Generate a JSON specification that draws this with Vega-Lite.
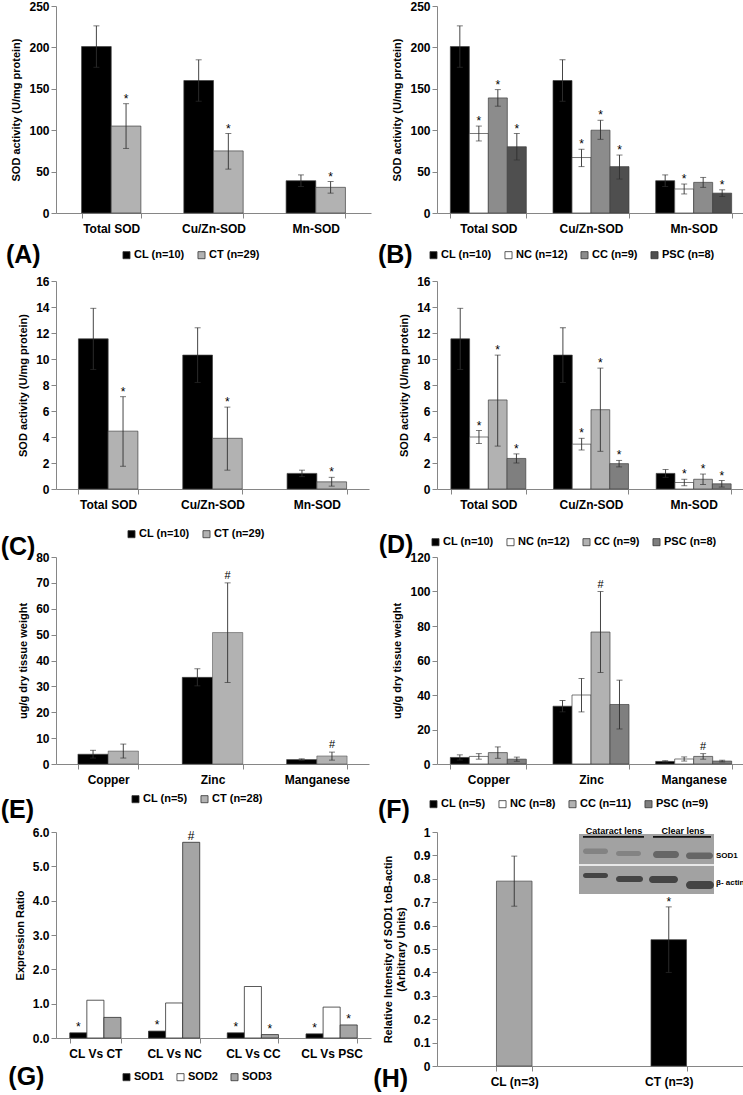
{
"$schema": "https://vega.github.io/schema/vega-lite/v6.json",
"padding": {"left": 0, "top": 0, "right": 0, "bottom": 0},
"background": "white",
"config": {
  "font": "Liberation Sans",
  "view": {"stroke": null},
  "axis": {"labelFont": "Liberation Sans", "labelFontSize": 12, "labelFontWeight": "bold", "labelColor": "#000000", "titleFont": "Liberation Sans", "titleFontSize": 11, "titleFontWeight": "bold", "titleColor": "#000000", "domainColor": "#868686", "tickColor": "#868686", "grid": false, "tickSize": 5},
  "axisY": {"labelPadding": 2, "titlePadding": 7},
  "axisX": {"labelPadding": 5, "labelAngle": 0},
  "legend": {"direction": "horizontal", "symbolType": "square", "symbolSize": 50, "symbolStrokeColor": "#333333", "symbolStrokeWidth": 0.8, "labelFont": "Liberation Sans", "labelFontSize": 11, "labelFontWeight": "bold", "labelColor": "#000000", "labelOffset": 2, "columnPadding": 11},
  "title": {"font": "Liberation Sans", "fontSize": 25, "fontWeight": "bold", "color": "#000000"},
  "text": {"color": "#000000"}
},
"columns": 2,
"bounds": "flush",
"align": "each",
"spacing": {"row": 68, "column": 66},
"resolve": {"scale": {"color": "independent", "xOffset": "independent"}, "legend": {"color": "independent"}},
"concat": [
   {"width": 315, "height": 207,
    "title": {"text": "(A)", "orient": "bottom", "anchor": "start", "frame": "bounds", "offset": -5.5, "dx": -5, "baseline": "middle"},
    "data": {"values": [
      {"c": "Total SOD", "g": "CL (n=10)", "v": 201, "lo": 176, "hi": 226, "s": ""},
      {"c": "Total SOD", "g": "CT (n=29)", "v": 105, "lo": 78, "hi": 132, "s": "*"},
      {"c": "Cu/Zn-SOD", "g": "CL (n=10)", "v": 160, "lo": 135, "hi": 185, "s": ""},
      {"c": "Cu/Zn-SOD", "g": "CT (n=29)", "v": 75, "lo": 53, "hi": 96, "s": "*"},
      {"c": "Mn-SOD", "g": "CL (n=10)", "v": 39, "lo": 32, "hi": 46, "s": ""},
      {"c": "Mn-SOD", "g": "CT (n=29)", "v": 31, "lo": 24, "hi": 38, "s": "*"}
    ]},
    "encoding": {
      "x": {"field": "c", "type": "nominal", "sort": ["Total SOD", "Cu/Zn-SOD", "Mn-SOD"], "scale": {"paddingInner": 0.42, "paddingOuter": 0.25}, "axis": {"title": null, "tickBand": "extent"}},
      "xOffset": {"field": "g", "type": "nominal", "scale": {"domain": ["CL (n=10)", "CT (n=29)"]}}
    },
    "layer": [
      {"mark": {"type": "bar", "stroke": "#404040", "strokeWidth": 0.7},
       "encoding": {"y": {"field": "v", "type": "quantitative", "scale": {"domain": [0, 250], "nice": false}, "axis": {"title": "SOD activity (U/mg protein)", "values": [0, 50, 100, 150, 200, 250]}},
         "color": {"field": "g", "type": "nominal", "scale": {"domain": ["CL (n=10)", "CT (n=29)"], "range": ["#000000", "#b2b2b2"]}, "legend": {"orient": "none", "legendX": 65, "legendY": 243.5, "title": null}}}},
      {"mark": {"type": "rule", "color": "#303030", "strokeWidth": 0.9}, "encoding": {"y": {"field": "lo", "type": "quantitative", "axis": {"title": "SOD activity (U/mg protein)", "values": [0, 50, 100, 150, 200, 250]}}, "y2": {"field": "hi"}}},
      {"mark": {"type": "tick", "color": "#303030", "thickness": 0.9, "size": 6}, "encoding": {"y": {"field": "lo", "type": "quantitative", "axis": {"title": "SOD activity (U/mg protein)", "values": [0, 50, 100, 150, 200, 250]}}}},
      {"mark": {"type": "tick", "color": "#303030", "thickness": 0.9, "size": 6}, "encoding": {"y": {"field": "hi", "type": "quantitative", "axis": {"title": "SOD activity (U/mg protein)", "values": [0, 50, 100, 150, 200, 250]}}}},
      {"mark": {"type": "text", "baseline": "alphabetic", "dy": -1, "fontSize": 12, "color": "#000000"}, "encoding": {"y": {"field": "hi", "type": "quantitative", "axis": {"title": "SOD activity (U/mg protein)", "values": [0, 50, 100, 150, 200, 250]}}, "text": {"field": "s"}}}
    ]},
   {"width": 308, "height": 207,
    "title": {"text": "(B)", "orient": "bottom", "anchor": "start", "frame": "bounds", "offset": -5.5, "dx": -14, "baseline": "middle"},
    "data": {"values": [
      {"c": "Total SOD", "g": "CL (n=10)", "v": 201, "lo": 176, "hi": 226, "s": ""},
      {"c": "Total SOD", "g": "NC (n=12)", "v": 96, "lo": 87, "hi": 105, "s": "*"},
      {"c": "Total SOD", "g": "CC (n=9)", "v": 139, "lo": 129, "hi": 149, "s": "*"},
      {"c": "Total SOD", "g": "PSC (n=8)", "v": 80, "lo": 64, "hi": 96, "s": "*"},
      {"c": "Cu/Zn-SOD", "g": "CL (n=10)", "v": 160, "lo": 135, "hi": 185, "s": ""},
      {"c": "Cu/Zn-SOD", "g": "NC (n=12)", "v": 67, "lo": 56, "hi": 77, "s": "*"},
      {"c": "Cu/Zn-SOD", "g": "CC (n=9)", "v": 100, "lo": 89, "hi": 112, "s": "*"},
      {"c": "Cu/Zn-SOD", "g": "PSC (n=8)", "v": 56, "lo": 41, "hi": 70, "s": "*"},
      {"c": "Mn-SOD", "g": "CL (n=10)", "v": 39, "lo": 32, "hi": 46, "s": ""},
      {"c": "Mn-SOD", "g": "NC (n=12)", "v": 29, "lo": 23, "hi": 35, "s": "*"},
      {"c": "Mn-SOD", "g": "CC (n=9)", "v": 37, "lo": 31, "hi": 43, "s": ""},
      {"c": "Mn-SOD", "g": "PSC (n=8)", "v": 24, "lo": 20, "hi": 28, "s": "*"}
    ]},
    "encoding": {
      "x": {"field": "c", "type": "nominal", "sort": ["Total SOD", "Cu/Zn-SOD", "Mn-SOD"], "scale": {"paddingInner": 0.26, "paddingOuter": 0.13}, "axis": {"title": null, "tickBand": "extent"}},
      "xOffset": {"field": "g", "type": "nominal", "scale": {"domain": ["CL (n=10)", "NC (n=12)", "CC (n=9)", "PSC (n=8)"]}}
    },
    "layer": [
      {"mark": {"type": "bar", "stroke": "#404040", "strokeWidth": 0.7},
       "encoding": {"y": {"field": "v", "type": "quantitative", "scale": {"domain": [0, 250], "nice": false}, "axis": {"title": "SOD activity (U/mg protein)", "values": [0, 50, 100, 150, 200, 250]}},
         "color": {"field": "g", "type": "nominal", "scale": {"domain": ["CL (n=10)", "NC (n=12)", "CC (n=9)", "PSC (n=8)"], "range": ["#000000", "#ffffff", "#8c8c8c", "#4f4f4f"]}, "legend": {"orient": "none", "legendX": -9, "legendY": 243.5, "title": null}}}},
      {"mark": {"type": "rule", "color": "#303030", "strokeWidth": 0.9}, "encoding": {"y": {"field": "lo", "type": "quantitative", "axis": {"title": "SOD activity (U/mg protein)", "values": [0, 50, 100, 150, 200, 250]}}, "y2": {"field": "hi"}}},
      {"mark": {"type": "tick", "color": "#303030", "thickness": 0.9, "size": 6}, "encoding": {"y": {"field": "lo", "type": "quantitative", "axis": {"title": "SOD activity (U/mg protein)", "values": [0, 50, 100, 150, 200, 250]}}}},
      {"mark": {"type": "tick", "color": "#303030", "thickness": 0.9, "size": 6}, "encoding": {"y": {"field": "hi", "type": "quantitative", "axis": {"title": "SOD activity (U/mg protein)", "values": [0, 50, 100, 150, 200, 250]}}}},
      {"mark": {"type": "text", "baseline": "alphabetic", "dy": -1, "fontSize": 12, "color": "#000000"}, "encoding": {"y": {"field": "hi", "type": "quantitative", "axis": {"title": "SOD activity (U/mg protein)", "values": [0, 50, 100, 150, 200, 250]}}, "text": {"field": "s"}}}
    ]},
   {"width": 313, "height": 208,
    "title": {"text": "(C)", "orient": "bottom", "anchor": "start", "frame": "bounds", "offset": 7.5, "dx": -17, "baseline": "middle"},
    "data": {"values": [
      {"c": "Total SOD", "g": "CL (n=10)", "v": 11.55, "lo": 9.2, "hi": 13.9, "s": ""},
      {"c": "Total SOD", "g": "CT (n=29)", "v": 4.45, "lo": 1.75, "hi": 7.1, "s": "*"},
      {"c": "Cu/Zn-SOD", "g": "CL (n=10)", "v": 10.3, "lo": 8.2, "hi": 12.4, "s": ""},
      {"c": "Cu/Zn-SOD", "g": "CT (n=29)", "v": 3.9, "lo": 1.45, "hi": 6.3, "s": "*"},
      {"c": "Mn-SOD", "g": "CL (n=10)", "v": 1.2, "lo": 0.95, "hi": 1.45, "s": ""},
      {"c": "Mn-SOD", "g": "CT (n=29)", "v": 0.55, "lo": 0.22, "hi": 0.9, "s": "*"}
    ]},
    "encoding": {
      "x": {"field": "c", "type": "nominal", "sort": ["Total SOD", "Cu/Zn-SOD", "Mn-SOD"], "scale": {"paddingInner": 0.43, "paddingOuter": 0.215}, "axis": {"title": null, "tickBand": "extent"}},
      "xOffset": {"field": "g", "type": "nominal", "scale": {"domain": ["CL (n=10)", "CT (n=29)"]}}
    },
    "layer": [
      {"mark": {"type": "bar", "stroke": "#404040", "strokeWidth": 0.7},
       "encoding": {"y": {"field": "v", "type": "quantitative", "scale": {"domain": [0, 16], "nice": false}, "axis": {"title": "SOD activity (U/mg protein)", "values": [0, 2, 4, 6, 8, 10, 12, 14, 16]}},
         "color": {"field": "g", "type": "nominal", "scale": {"domain": ["CL (n=10)", "CT (n=29)"], "range": ["#000000", "#b2b2b2"]}, "legend": {"orient": "none", "legendX": 70, "legendY": 247.5, "title": null}}}},
      {"mark": {"type": "rule", "color": "#303030", "strokeWidth": 0.9}, "encoding": {"y": {"field": "lo", "type": "quantitative", "axis": {"title": "SOD activity (U/mg protein)", "values": [0, 2, 4, 6, 8, 10, 12, 14, 16]}}, "y2": {"field": "hi"}}},
      {"mark": {"type": "tick", "color": "#303030", "thickness": 0.9, "size": 6}, "encoding": {"y": {"field": "lo", "type": "quantitative", "axis": {"title": "SOD activity (U/mg protein)", "values": [0, 2, 4, 6, 8, 10, 12, 14, 16]}}}},
      {"mark": {"type": "tick", "color": "#303030", "thickness": 0.9, "size": 6}, "encoding": {"y": {"field": "hi", "type": "quantitative", "axis": {"title": "SOD activity (U/mg protein)", "values": [0, 2, 4, 6, 8, 10, 12, 14, 16]}}}},
      {"mark": {"type": "text", "baseline": "alphabetic", "dy": -1, "fontSize": 12, "color": "#000000"}, "encoding": {"y": {"field": "hi", "type": "quantitative", "axis": {"title": "SOD activity (U/mg protein)", "values": [0, 2, 4, 6, 8, 10, 12, 14, 16]}}, "text": {"field": "s"}}}
    ]},
   {"width": 308, "height": 208,
    "title": {"text": "(D)", "orient": "bottom", "anchor": "start", "frame": "bounds", "offset": -2.5, "dx": -20, "baseline": "middle"},
    "data": {"values": [
      {"c": "Total SOD", "g": "CL (n=10)", "v": 11.55, "lo": 9.2, "hi": 13.9, "s": ""},
      {"c": "Total SOD", "g": "NC (n=12)", "v": 4.0, "lo": 3.5, "hi": 4.5, "s": "*"},
      {"c": "Total SOD", "g": "CC (n=9)", "v": 6.85, "lo": 3.3, "hi": 10.3, "s": "*"},
      {"c": "Total SOD", "g": "PSC (n=8)", "v": 2.35, "lo": 2.0, "hi": 2.7, "s": "*"},
      {"c": "Cu/Zn-SOD", "g": "CL (n=10)", "v": 10.3, "lo": 8.2, "hi": 12.4, "s": ""},
      {"c": "Cu/Zn-SOD", "g": "NC (n=12)", "v": 3.45, "lo": 3.0, "hi": 3.9, "s": "*"},
      {"c": "Cu/Zn-SOD", "g": "CC (n=9)", "v": 6.1, "lo": 2.9, "hi": 9.3, "s": "*"},
      {"c": "Cu/Zn-SOD", "g": "PSC (n=8)", "v": 1.95, "lo": 1.7, "hi": 2.2, "s": "*"},
      {"c": "Mn-SOD", "g": "CL (n=10)", "v": 1.2, "lo": 0.9, "hi": 1.5, "s": ""},
      {"c": "Mn-SOD", "g": "NC (n=12)", "v": 0.5, "lo": 0.25, "hi": 0.75, "s": "*"},
      {"c": "Mn-SOD", "g": "CC (n=9)", "v": 0.75, "lo": 0.35, "hi": 1.15, "s": "*"},
      {"c": "Mn-SOD", "g": "PSC (n=8)", "v": 0.4, "lo": 0.15, "hi": 0.65, "s": "*"}
    ]},
    "encoding": {
      "x": {"field": "c", "type": "nominal", "sort": ["Total SOD", "Cu/Zn-SOD", "Mn-SOD"], "scale": {"paddingInner": 0.27, "paddingOuter": 0.135}, "axis": {"title": null, "tickBand": "extent"}},
      "xOffset": {"field": "g", "type": "nominal", "scale": {"domain": ["CL (n=10)", "NC (n=12)", "CC (n=9)", "PSC (n=8)"]}}
    },
    "layer": [
      {"mark": {"type": "bar", "stroke": "#404040", "strokeWidth": 0.7},
       "encoding": {"y": {"field": "v", "type": "quantitative", "scale": {"domain": [0, 16], "nice": false}, "axis": {"title": "SOD activity (U/mg protein)", "values": [0, 2, 4, 6, 8, 10, 12, 14, 16]}},
         "color": {"field": "g", "type": "nominal", "scale": {"domain": ["CL (n=10)", "NC (n=12)", "CC (n=9)", "PSC (n=8)"], "range": ["#000000", "#ffffff", "#b2b2b2", "#7f7f7f"]}, "legend": {"orient": "none", "legendX": -7, "legendY": 255.5, "title": null}}}},
      {"mark": {"type": "rule", "color": "#303030", "strokeWidth": 0.9}, "encoding": {"y": {"field": "lo", "type": "quantitative", "axis": {"title": "SOD activity (U/mg protein)", "values": [0, 2, 4, 6, 8, 10, 12, 14, 16]}}, "y2": {"field": "hi"}}},
      {"mark": {"type": "tick", "color": "#303030", "thickness": 0.9, "size": 6}, "encoding": {"y": {"field": "lo", "type": "quantitative", "axis": {"title": "SOD activity (U/mg protein)", "values": [0, 2, 4, 6, 8, 10, 12, 14, 16]}}}},
      {"mark": {"type": "tick", "color": "#303030", "thickness": 0.9, "size": 6}, "encoding": {"y": {"field": "hi", "type": "quantitative", "axis": {"title": "SOD activity (U/mg protein)", "values": [0, 2, 4, 6, 8, 10, 12, 14, 16]}}}},
      {"mark": {"type": "text", "baseline": "alphabetic", "dy": -1, "fontSize": 12, "color": "#000000"}, "encoding": {"y": {"field": "hi", "type": "quantitative", "axis": {"title": "SOD activity (U/mg protein)", "values": [0, 2, 4, 6, 8, 10, 12, 14, 16]}}, "text": {"field": "s"}}}
    ]},
   {"width": 313, "height": 207,
    "title": {"text": "(E)", "orient": "bottom", "anchor": "start", "frame": "bounds", "offset": 5.5, "dx": -17, "baseline": "middle"},
    "data": {"values": [
      {"c": "Copper", "g": "CL (n=5)", "v": 3.8, "lo": 2.3, "hi": 5.3, "s": ""},
      {"c": "Copper", "g": "CT (n=28)", "v": 5.0, "lo": 2.3, "hi": 7.7, "s": ""},
      {"c": "Zinc", "g": "CL (n=5)", "v": 33.5, "lo": 30.2, "hi": 36.8, "s": ""},
      {"c": "Zinc", "g": "CT (n=28)", "v": 50.8, "lo": 31.5, "hi": 70, "s": "#"},
      {"c": "Manganese", "g": "CL (n=5)", "v": 1.7, "lo": 1.4, "hi": 2.0, "s": ""},
      {"c": "Manganese", "g": "CT (n=28)", "v": 3.1, "lo": 1.5, "hi": 4.6, "s": "#"}
    ]},
    "encoding": {
      "x": {"field": "c", "type": "nominal", "sort": ["Copper", "Zinc", "Manganese"], "scale": {"paddingInner": 0.42, "paddingOuter": 0.21}, "axis": {"title": null, "tickBand": "extent"}},
      "xOffset": {"field": "g", "type": "nominal", "scale": {"domain": ["CL (n=5)", "CT (n=28)"]}}
    },
    "layer": [
      {"mark": {"type": "bar", "stroke": "#404040", "strokeWidth": 0.5},
       "encoding": {"y": {"field": "v", "type": "quantitative", "scale": {"domain": [0, 80], "nice": false}, "axis": {"title": "ug/g dry tissue weight", "values": [0, 10, 20, 30, 40, 50, 60, 70, 80]}},
         "color": {"field": "g", "type": "nominal", "scale": {"domain": ["CL (n=5)", "CT (n=28)"], "range": ["#000000", "#b2b2b2"]}, "legend": {"orient": "none", "legendX": 74, "legendY": 236.5, "title": null}}}},
      {"mark": {"type": "rule", "color": "#303030", "strokeWidth": 0.9}, "encoding": {"y": {"field": "lo", "type": "quantitative", "axis": {"title": "ug/g dry tissue weight", "values": [0, 10, 20, 30, 40, 50, 60, 70, 80]}}, "y2": {"field": "hi"}}},
      {"mark": {"type": "tick", "color": "#303030", "thickness": 0.9, "size": 6}, "encoding": {"y": {"field": "lo", "type": "quantitative", "axis": {"title": "ug/g dry tissue weight", "values": [0, 10, 20, 30, 40, 50, 60, 70, 80]}}}},
      {"mark": {"type": "tick", "color": "#303030", "thickness": 0.9, "size": 6}, "encoding": {"y": {"field": "hi", "type": "quantitative", "axis": {"title": "ug/g dry tissue weight", "values": [0, 10, 20, 30, 40, 50, 60, 70, 80]}}}},
      {"mark": {"type": "text", "baseline": "alphabetic", "dy": -4, "fontSize": 11, "color": "#000000"}, "encoding": {"y": {"field": "hi", "type": "quantitative", "axis": {"title": "ug/g dry tissue weight", "values": [0, 10, 20, 30, 40, 50, 60, 70, 80]}}, "text": {"field": "s"}}}
    ]},
   {"width": 308, "height": 207,
    "title": {"text": "(F)", "orient": "bottom", "anchor": "start", "frame": "bounds", "offset": 0.5, "dx": -14, "baseline": "middle"},
    "data": {"values": [
      {"c": "Copper", "g": "CL (n=5)", "v": 3.8, "lo": 2.3, "hi": 5.3, "s": ""},
      {"c": "Copper", "g": "NC (n=8)", "v": 4.4, "lo": 2.8, "hi": 6.0, "s": ""},
      {"c": "Copper", "g": "CC (n=11)", "v": 6.6, "lo": 3.3, "hi": 9.9, "s": ""},
      {"c": "Copper", "g": "PSC (n=9)", "v": 2.8, "lo": 1.6, "hi": 4.0, "s": ""},
      {"c": "Zinc", "g": "CL (n=5)", "v": 33.5, "lo": 30.2, "hi": 36.8, "s": ""},
      {"c": "Zinc", "g": "NC (n=8)", "v": 40, "lo": 30.2, "hi": 49.6, "s": ""},
      {"c": "Zinc", "g": "CC (n=11)", "v": 76.5, "lo": 53, "hi": 100, "s": "#"},
      {"c": "Zinc", "g": "PSC (n=9)", "v": 34.5, "lo": 20.3, "hi": 48.6, "s": ""},
      {"c": "Manganese", "g": "CL (n=5)", "v": 1.5, "lo": 1.1, "hi": 1.9, "s": ""},
      {"c": "Manganese", "g": "NC (n=8)", "v": 2.9, "lo": 1.7, "hi": 4.1, "s": ""},
      {"c": "Manganese", "g": "CC (n=11)", "v": 4.4, "lo": 2.8, "hi": 6.0, "s": "#"},
      {"c": "Manganese", "g": "PSC (n=9)", "v": 1.7, "lo": 1.2, "hi": 2.2, "s": ""}
    ]},
    "encoding": {
      "x": {"field": "c", "type": "nominal", "sort": ["Copper", "Zinc", "Manganese"], "scale": {"paddingInner": 0.26, "paddingOuter": 0.13}, "axis": {"title": null, "tickBand": "extent"}},
      "xOffset": {"field": "g", "type": "nominal", "scale": {"domain": ["CL (n=5)", "NC (n=8)", "CC (n=11)", "PSC (n=9)"]}}
    },
    "layer": [
      {"mark": {"type": "bar", "stroke": "#404040", "strokeWidth": 0.7},
       "encoding": {"y": {"field": "v", "type": "quantitative", "scale": {"domain": [0, 120], "nice": false}, "axis": {"title": "ug/g dry tissue weight", "values": [0, 20, 40, 60, 80, 100, 120]}},
         "color": {"field": "g", "type": "nominal", "scale": {"domain": ["CL (n=5)", "NC (n=8)", "CC (n=11)", "PSC (n=9)"], "range": ["#000000", "#ffffff", "#b2b2b2", "#7f7f7f"]}, "legend": {"orient": "none", "legendX": -9, "legendY": 241.5, "title": null}}}},
      {"mark": {"type": "rule", "color": "#303030", "strokeWidth": 0.9}, "encoding": {"y": {"field": "lo", "type": "quantitative", "axis": {"title": "ug/g dry tissue weight", "values": [0, 20, 40, 60, 80, 100, 120]}}, "y2": {"field": "hi"}}},
      {"mark": {"type": "tick", "color": "#303030", "thickness": 0.9, "size": 6}, "encoding": {"y": {"field": "lo", "type": "quantitative", "axis": {"title": "ug/g dry tissue weight", "values": [0, 20, 40, 60, 80, 100, 120]}}}},
      {"mark": {"type": "tick", "color": "#303030", "thickness": 0.9, "size": 6}, "encoding": {"y": {"field": "hi", "type": "quantitative", "axis": {"title": "ug/g dry tissue weight", "values": [0, 20, 40, 60, 80, 100, 120]}}}},
      {"mark": {"type": "text", "baseline": "alphabetic", "dy": -4, "fontSize": 11, "color": "#000000"}, "encoding": {"y": {"field": "hi", "type": "quantitative", "axis": {"title": "ug/g dry tissue weight", "values": [0, 20, 40, 60, 80, 100, 120]}}, "text": {"field": "s"}}}
    ]},
   {"width": 315, "height": 206,
    "title": {"text": "(G)", "orient": "bottom", "anchor": "start", "frame": "bounds", "offset": -5.5, "dx": -6, "baseline": "middle"},
    "data": {"values": [
      {"c": "CL Vs CT", "g": "SOD1", "v": 0.15, "s": "*"},
      {"c": "CL Vs CT", "g": "SOD2", "v": 1.1, "s": ""},
      {"c": "CL Vs CT", "g": "SOD3", "v": 0.6, "s": ""},
      {"c": "CL Vs NC", "g": "SOD1", "v": 0.2, "s": "*"},
      {"c": "CL Vs NC", "g": "SOD2", "v": 1.02, "s": ""},
      {"c": "CL Vs NC", "g": "SOD3", "v": 5.7, "s": "#"},
      {"c": "CL Vs CC", "g": "SOD1", "v": 0.15, "s": "*"},
      {"c": "CL Vs CC", "g": "SOD2", "v": 1.5, "s": ""},
      {"c": "CL Vs CC", "g": "SOD3", "v": 0.1, "s": "*"},
      {"c": "CL Vs PSC", "g": "SOD1", "v": 0.12, "s": "*"},
      {"c": "CL Vs PSC", "g": "SOD2", "v": 0.9, "s": ""},
      {"c": "CL Vs PSC", "g": "SOD3", "v": 0.38, "s": "*"}
    ]},
    "encoding": {
      "x": {"field": "c", "type": "nominal", "sort": ["CL Vs CT", "CL Vs NC", "CL Vs CC", "CL Vs PSC"], "scale": {"paddingInner": 0.35, "paddingOuter": 0.175}, "axis": {"title": null, "tickBand": "extent"}},
      "xOffset": {"field": "g", "type": "nominal", "scale": {"domain": ["SOD1", "SOD2", "SOD3"]}}
    },
    "layer": [
      {"mark": {"type": "bar", "stroke": "#303030", "strokeWidth": 0.8},
       "encoding": {"y": {"field": "v", "type": "quantitative", "scale": {"domain": [0, 6], "nice": false}, "axis": {"title": "Expression Ratio", "values": [0, 1, 2, 3, 4, 5, 6], "format": ".1f"}},
         "color": {"field": "g", "type": "nominal", "scale": {"domain": ["SOD1", "SOD2", "SOD3"], "range": ["#000000", "#ffffff", "#a5a5a5"]}, "legend": {"orient": "none", "legendX": 65, "legendY": 239.5, "title": null}}}},
      {"mark": {"type": "text", "baseline": "alphabetic", "dy": -2, "fontSize": 12, "color": "#000000"}, "encoding": {"y": {"field": "v", "type": "quantitative", "axis": {"title": "Expression Ratio", "values": [0, 1, 2, 3, 4, 5, 6], "format": ".1f"}}, "text": {"field": "s"}}}
    ]},
   {"width": 309, "height": 234,
    "title": {"text": "(H)", "orient": "bottom", "anchor": "start", "frame": "bounds", "offset": -8, "dx": -9, "baseline": "middle"},
    "layer": [
      {"data": {"values": [
         {"c": "CL (n=3)", "v": 0.79, "lo": 0.683, "hi": 0.897, "s": ""},
         {"c": "CT (n=3)", "v": 0.54, "lo": 0.40, "hi": 0.68, "s": "*"}
       ]},
       "encoding": {"x": {"field": "c", "type": "nominal", "sort": ["CL (n=3)", "CT (n=3)"], "scale": {"paddingInner": 0.77, "paddingOuter": 0.385}, "axis": {"title": null, "tickBand": "extent"}}},
       "layer": [
         {"mark": {"type": "bar", "stroke": "#404040", "strokeWidth": 0.7},
          "encoding": {"y": {"field": "v", "type": "quantitative", "scale": {"domain": [0, 1], "nice": false}, "axis": {"title": ["Relative Intensity of SOD1 toB-actin", "(Arbitrary Units)"], "values": [0, 0.1, 0.2, 0.3, 0.4, 0.5, 0.6, 0.7, 0.8, 0.9, 1], "format": "~g"}},
            "color": {"field": "c", "type": "nominal", "scale": {"domain": ["CL (n=3)", "CT (n=3)"], "range": ["#a5a5a5", "#000000"]}, "legend": null}}},
         {"mark": {"type": "rule", "color": "#303030", "strokeWidth": 0.9}, "encoding": {"y": {"field": "lo", "type": "quantitative", "axis": {"title": ["Relative Intensity of SOD1 toB-actin", "(Arbitrary Units)"], "values": [0, 0.1, 0.2, 0.3, 0.4, 0.5, 0.6, 0.7, 0.8, 0.9, 1], "format": "~g"}}, "y2": {"field": "hi"}}},
         {"mark": {"type": "tick", "color": "#303030", "thickness": 0.9, "size": 6}, "encoding": {"y": {"field": "lo", "type": "quantitative", "axis": {"title": ["Relative Intensity of SOD1 toB-actin", "(Arbitrary Units)"], "values": [0, 0.1, 0.2, 0.3, 0.4, 0.5, 0.6, 0.7, 0.8, 0.9, 1], "format": "~g"}}}},
         {"mark": {"type": "tick", "color": "#303030", "thickness": 0.9, "size": 6}, "encoding": {"y": {"field": "hi", "type": "quantitative", "axis": {"title": ["Relative Intensity of SOD1 toB-actin", "(Arbitrary Units)"], "values": [0, 0.1, 0.2, 0.3, 0.4, 0.5, 0.6, 0.7, 0.8, 0.9, 1], "format": "~g"}}}},
         {"mark": {"type": "text", "baseline": "alphabetic", "dy": -1, "fontSize": 12, "color": "#000000"}, "encoding": {"y": {"field": "hi", "type": "quantitative", "axis": {"title": ["Relative Intensity of SOD1 toB-actin", "(Arbitrary Units)"], "values": [0, 0.1, 0.2, 0.3, 0.4, 0.5, 0.6, 0.7, 0.8, 0.9, 1], "format": "~g"}}, "text": {"field": "s"}}}
       ]},
      {"layer": [
         {"data": {"values": [
            {"x1": 142, "x2": 277, "y1": 0.991, "y2": 0.862, "k": "membrane"},
            {"x1": 142, "x2": 277, "y1": 0.856, "y2": 0.735, "k": "membrane"},
            {"x1": 146, "x2": 207, "y1": 0.983, "y2": 0.975, "k": "line"},
            {"x1": 216, "x2": 274, "y1": 0.983, "y2": 0.975, "k": "line"}
          ]},
          "mark": {"type": "rect"},
          "encoding": {"x": {"field": "x1", "type": "quantitative", "scale": {"domain": [0, 309], "nice": false, "zero": false}, "axis": null}, "x2": {"field": "x2"}, "y": {"field": "y1", "type": "quantitative", "axis": {"title": ["Relative Intensity of SOD1 toB-actin", "(Arbitrary Units)"], "values": [0, 0.1, 0.2, 0.3, 0.4, 0.5, 0.6, 0.7, 0.8, 0.9, 1], "format": "~g"}}, "y2": {"field": "y2"},
            "color": {"field": "k", "type": "nominal", "scale": {"domain": ["membrane", "line"], "range": ["#a2a2a2", "#111111"]}, "legend": null}}},
         {"data": {"values": [
            {"x1": 146, "x2": 171, "y1": 0.930, "y2": 0.906, "k": "SOD1 cataract"},
            {"x1": 179, "x2": 204, "y1": 0.919, "y2": 0.897, "k": "SOD1 cataract"},
            {"x1": 216, "x2": 242, "y1": 0.919, "y2": 0.889, "k": "SOD1 clear"},
            {"x1": 249, "x2": 276, "y1": 0.912, "y2": 0.885, "k": "SOD1 clear"},
            {"x1": 146, "x2": 171, "y1": 0.825, "y2": 0.803, "k": "actin"},
            {"x1": 179, "x2": 206, "y1": 0.812, "y2": 0.786, "k": "actin"},
            {"x1": 212, "x2": 241, "y1": 0.812, "y2": 0.782, "k": "actin"},
            {"x1": 249, "x2": 277, "y1": 0.791, "y2": 0.756, "k": "actin"}
          ]},
          "mark": {"type": "rect", "cornerRadius": 5, "opacity": 0.9},
          "encoding": {"x": {"field": "x1", "type": "quantitative", "scale": {"domain": [0, 309], "nice": false, "zero": false}, "axis": null}, "x2": {"field": "x2"}, "y": {"field": "y1", "type": "quantitative", "axis": {"title": ["Relative Intensity of SOD1 toB-actin", "(Arbitrary Units)"], "values": [0, 0.1, 0.2, 0.3, 0.4, 0.5, 0.6, 0.7, 0.8, 0.9, 1], "format": "~g"}}, "y2": {"field": "y2"},
            "color": {"field": "k", "type": "nominal", "scale": {"domain": ["SOD1 cataract", "SOD1 clear", "actin"], "range": ["#7f7f7f", "#5f5f5f", "#3a3a3a"]}, "legend": null}}},
         {"data": {"values": [
            {"x1": 177, "y1": 1.006, "t": "Cataract lens"},
            {"x1": 246, "y1": 1.006, "t": "Clear lens"}
          ]},
          "mark": {"type": "text", "fontSize": 9, "fontWeight": "bold", "align": "center", "baseline": "middle", "color": "#000000"},
          "encoding": {"x": {"field": "x1", "type": "quantitative", "scale": {"domain": [0, 309], "nice": false, "zero": false}, "axis": null}, "y": {"field": "y1", "type": "quantitative", "axis": {"title": ["Relative Intensity of SOD1 toB-actin", "(Arbitrary Units)"], "values": [0, 0.1, 0.2, 0.3, 0.4, 0.5, 0.6, 0.7, 0.8, 0.9, 1], "format": "~g"}}, "text": {"field": "t"}}},
         {"data": {"values": [
            {"x1": 279, "y1": 0.897, "t": "SOD1"},
            {"x1": 279, "y1": 0.784, "t": "β- actin"}
          ]},
          "mark": {"type": "text", "fontSize": 8, "fontWeight": "bold", "align": "left", "baseline": "middle", "color": "#000000"},
          "encoding": {"x": {"field": "x1", "type": "quantitative", "scale": {"domain": [0, 309], "nice": false, "zero": false}, "axis": null}, "y": {"field": "y1", "type": "quantitative", "axis": {"title": ["Relative Intensity of SOD1 toB-actin", "(Arbitrary Units)"], "values": [0, 0.1, 0.2, 0.3, 0.4, 0.5, 0.6, 0.7, 0.8, 0.9, 1], "format": "~g"}}, "text": {"field": "t"}}}
       ],
       "resolve": {"scale": {"color": "independent"}}}
    ],
    "resolve": {"scale": {"x": "independent", "color": "independent"}, "axis": {"x": "independent"}}}
]
}
